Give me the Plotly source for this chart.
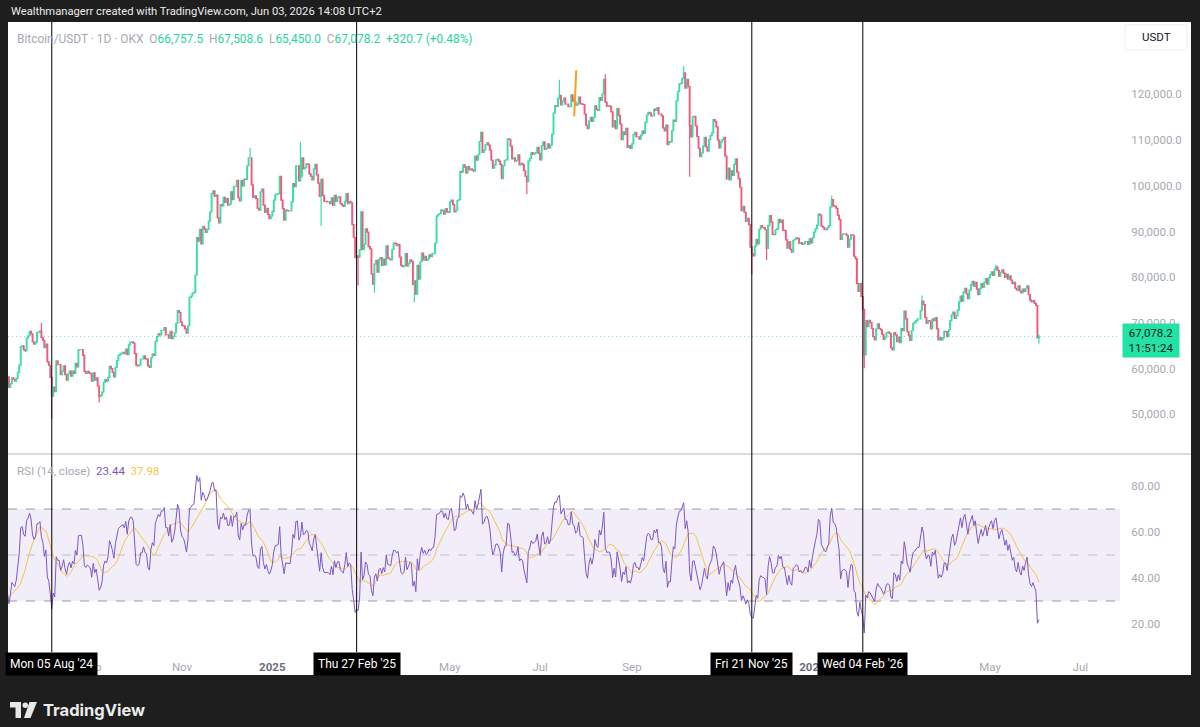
import plotly.graph_objects as go
import pandas as pd
import numpy as np

# ---------------- DATA (daily closes, thousands of USDT) ----------------
first_open_k = 67.5
close_2024_06 = [67.8, 67.8, 68.8, 70.6, 71.1, 70.8, 69.3, 69.3, 69.6, 69.5, 67.3, 68.2, 66.8, 66.0, 66.2, 66.7, 66.5, 65.2, 64.9, 64.9, 64.1, 64.3, 63.2, 60.3, 61.8, 60.9, 61.6, 60.3, 60.9, 62.7]
close_2024_07 = [62.9, 62.1, 60.2, 57.0, 56.7, 58.2, 55.9, 56.7, 58.0, 57.7, 57.3, 57.9, 59.2, 60.8, 64.8, 65.0, 64.1, 63.9, 66.7, 67.2, 68.2, 67.6, 65.9, 65.4, 65.8, 67.9, 68.0, 68.3, 66.8, 66.2, 64.6]
close_2024_08 = [65.4, 61.5, 60.7, 58.1, 54.0, 56.0, 55.0, 61.7, 60.9, 60.9, 58.7, 59.4, 60.6, 58.7, 57.5, 58.9, 59.5, 58.4, 59.5, 59.0, 61.2, 60.4, 64.1, 64.2, 64.2, 62.9, 59.4, 59.0, 59.4, 59.1, 58.9]
close_2024_09 = [57.3, 59.1, 57.5, 58.0, 56.2, 53.9, 54.2, 54.9, 57.0, 57.6, 57.3, 58.1, 60.5, 60.0, 59.2, 58.2, 60.3, 61.8, 62.9, 63.2, 63.4, 63.6, 63.3, 64.3, 63.1, 65.2, 65.8, 65.9, 65.6, 63.3]
close_2024_10 = [60.8, 60.6, 60.8, 62.1, 62.1, 62.8, 62.2, 62.1, 60.6, 60.3, 62.4, 63.2, 62.9, 66.0, 67.0, 67.6, 67.4, 68.4, 68.4, 69.0, 67.4, 67.4, 66.7, 68.2, 66.6, 67.0, 67.9, 69.9, 72.7, 72.3, 70.2]
close_2024_11 = [69.5, 69.3, 68.7, 67.8, 69.4, 75.6, 75.9, 76.5, 76.7, 80.5, 88.7, 87.9, 90.5, 87.3, 91.1, 90.6, 89.8, 90.5, 92.3, 94.3, 98.3, 98.9, 97.7, 98.0, 93.0, 91.9, 95.9, 95.6, 97.5, 96.4]
close_2024_12 = [97.2, 95.8, 96.0, 98.7, 97.0, 99.9, 99.9, 101.2, 97.4, 96.7, 101.2, 100.0, 101.5, 101.4, 104.4, 106.1, 106.1, 100.2, 97.5, 97.8, 97.2, 95.1, 94.7, 98.7, 99.3, 95.8, 94.2, 95.1, 93.7, 92.8, 93.4]
close_2025_01 = [94.4, 96.9, 98.1, 98.2, 98.3, 102.1, 96.9, 95.0, 92.5, 94.7, 94.6, 94.5, 94.5, 96.5, 100.5, 99.8, 104.4, 104.4, 101.1, 102.0, 106.1, 103.7, 104.0, 104.8, 104.7, 102.6, 102.1, 101.3, 103.7, 104.7, 102.4]
close_2025_02 = [100.6, 97.7, 101.4, 97.9, 96.6, 96.6, 96.5, 96.5, 96.1, 97.4, 95.7, 97.9, 96.6, 97.5, 97.6, 96.1, 95.8, 95.5, 96.6, 98.3, 96.1, 96.6, 96.3, 91.5, 88.7, 84.3, 84.7, 84.4]
close_2025_03 = [86.0, 94.3, 86.1, 87.2, 90.6, 89.9, 86.7, 86.2, 80.7, 78.5, 82.9, 83.7, 81.1, 83.9, 84.3, 82.6, 84.0, 82.7, 86.9, 84.2, 84.0, 83.8, 86.1, 87.5, 87.4, 86.9, 87.2, 84.4, 82.6, 82.3, 82.5]
close_2025_04 = [85.2, 82.5, 83.1, 83.8, 83.5, 78.4, 79.2, 76.3, 82.6, 79.6, 83.4, 85.3, 83.8, 84.6, 83.7, 84.0, 84.9, 84.5, 85.1, 85.2, 87.5, 93.4, 93.7, 93.9, 94.7, 94.6, 93.8, 95.0, 94.3, 94.2]
close_2025_05 = [96.5, 96.9, 95.9, 94.3, 94.7, 96.8, 97.0, 103.2, 103.0, 104.6, 104.1, 102.8, 104.2, 103.5, 103.7, 103.5, 103.2, 106.5, 105.6, 106.8, 109.7, 111.7, 107.3, 107.8, 109.0, 109.4, 108.9, 107.8, 105.6, 103.9, 104.6]
close_2025_06 = [105.7, 105.8, 105.4, 104.7, 101.6, 104.4, 105.6, 105.7, 110.3, 110.2, 108.7, 105.9, 106.1, 105.4, 105.6, 106.8, 104.6, 104.9, 104.7, 103.3, 102.1, 100.9, 105.4, 106.0, 107.3, 106.9, 107.1, 107.3, 108.4, 107.1]
close_2025_07 = [105.7, 108.8, 109.6, 108.0, 108.2, 109.2, 108.3, 108.9, 111.3, 115.9, 117.5, 117.4, 119.1, 119.8, 117.7, 118.6, 119.2, 117.9, 117.9, 117.3, 117.4, 119.9, 118.6, 118.4, 117.6, 117.9, 119.4, 118.0, 117.9, 117.8, 115.7]
close_2025_08 = [113.3, 112.5, 114.2, 115.0, 114.1, 115.0, 117.5, 116.7, 116.5, 119.3, 118.7, 120.1, 123.3, 118.3, 117.4, 117.5, 117.4, 116.2, 112.9, 114.3, 112.5, 116.9, 115.4, 113.5, 110.1, 111.8, 111.2, 112.6, 108.4, 108.8, 108.2]
close_2025_09 = [109.2, 111.2, 111.7, 110.7, 110.7, 110.2, 111.1, 112.0, 111.5, 113.9, 115.5, 116.1, 115.9, 115.3, 115.3, 116.8, 116.5, 117.1, 115.7, 115.7, 115.3, 112.7, 112.0, 113.3, 109.0, 109.7, 109.6, 112.1, 114.4, 114.1]
close_2025_10 = [118.6, 120.6, 122.3, 122.4, 123.5, 124.7, 121.4, 123.3, 121.7, 113.2, 110.7, 115.1, 115.2, 113.1, 110.8, 108.2, 106.4, 107.2, 108.7, 110.6, 108.5, 107.6, 110.1, 111.0, 111.6, 114.5, 114.1, 112.9, 110.0, 108.3, 109.6]
close_2025_11 = [110.1, 110.6, 106.5, 101.5, 103.9, 101.3, 103.3, 102.3, 104.7, 105.9, 103.0, 101.6, 99.7, 94.6, 95.5, 94.2, 92.2, 92.9, 91.5, 86.6, 85.1, 84.7, 86.8, 88.3, 87.3, 90.5, 91.3, 90.9, 90.8, 90.4]
close_2025_12 = [86.3, 91.3, 93.5, 92.1, 89.4, 89.3, 90.4, 90.6, 92.7, 92.0, 92.5, 90.3, 90.2, 88.2, 86.4, 87.8, 86.1, 85.5, 88.1, 88.3, 88.6, 88.5, 87.4, 87.6, 87.2, 87.3, 87.8, 87.8, 87.2, 88.4, 87.5]
close_2026_01 = [88.7, 89.9, 90.6, 91.4, 93.8, 93.6, 91.2, 90.9, 90.5, 90.4, 90.8, 91.3, 95.4, 97.0, 95.6, 95.5, 95.1, 93.6, 92.6, 88.3, 89.4, 89.5, 89.5, 89.2, 86.6, 88.3, 89.3, 89.2, 84.6, 84.1, 78.6]
close_2026_02 = [76.9, 78.7, 75.8, 73.0, 63.0, 70.5, 69.2, 70.6, 70.1, 68.8, 67.0, 66.3, 68.7, 69.8, 68.8, 68.5, 67.5, 66.4, 66.9, 67.9, 68.0, 67.7, 64.6, 64.1, 67.9, 67.4, 65.9, 66.9]
close_2026_03 = [65.7, 68.8, 68.3, 72.6, 70.9, 68.1, 67.3, 66.2, 68.4, 69.9, 70.2, 70.5, 70.9, 70.9, 72.7, 74.8, 74.0, 71.2, 69.9, 70.5, 70.4, 68.7, 70.9, 70.5, 71.2, 68.7, 66.3, 66.8, 66.3, 66.8, 68.2]
close_2026_04 = [68.1, 67.0, 68.5, 70.5, 71.8, 72.4, 71.0, 71.6, 72.8, 74.6, 75.9, 74.8, 76.8, 77.6, 76.4, 75.3, 77.2, 78.4, 79.1, 78.0, 78.9, 77.4, 76.2, 77.5, 78.6, 77.8, 78.9, 79.7, 78.5, 79.9]
close_2026_05 = [80.6, 81.2, 80.4, 81.8, 82.3, 81.5, 80.2, 81.1, 81.6, 80.9, 80.0, 80.7, 79.6, 80.3, 79.4, 78.6, 78.9, 77.6, 77.2, 78.1, 77.0, 76.6, 77.4, 76.9, 77.6, 78.1, 76.2, 75.0, 74.6, 74.9, 74.3]
close_2026_06 = [73.8, 66.7575, 67.0782]

# notable wick extremes (thousands)
wick_high = {"2024-07-29": 70.0, "2024-12-17": 108.3, "2025-01-20": 109.6, "2025-07-14": 123.2,
             "2025-08-14": 124.4, "2025-10-06": 126.2, "2026-01-14": 97.9, "2026-03-16": 76.0,
             "2026-05-05": 82.8, "2026-06-03": 67.5086}
wick_low = {"2024-08-05": 49.0, "2024-09-06": 52.6, "2025-02-03": 91.2, "2025-02-28": 78.2,
            "2025-03-11": 76.6, "2025-04-07": 74.5, "2025-06-22": 98.2, "2025-10-10": 102.0,
            "2025-11-21": 80.6, "2025-12-01": 83.8, "2026-02-05": 60.1, "2026-06-03": 65.45}

event_dates = ["2024-08-05", "2025-02-27", "2025-11-21", "2026-02-04"]
highlight_dates = ["2025-07-25 09:00", "2025-07-24 00:00"]
highlight_prices = [125300, 115200]

price_ticks = [50000, 60000, 70000, 80000, 90000, 100000, 110000, 120000]
rsi_ticks = [20, 40, 60, 80]
# time-scale labels that are not covered by the crosshair date boxes
time_ticks = ["2024-09-01", "2024-11-01", "2025-01-01", "2025-05-01", "2025-07-01",
              "2025-09-01", "2026-01-01", "2026-05-01", "2026-07-01"]
time_tick_text = ["Sep", "Nov", "2025", "May", "Jul", "Sep", "2026", "May", "Jul"]

header_text = "Wealthmanagerr created with TradingView.com, Jun 03, 2026 14:08 UTC+2"
symbol_text = "Bitcoin/USDT · 1D · OKX"
rsi_label = "RSI (14, close)"
rsi_value_text = "23.44"
rsi_ma_text = "37.98"
countdown_text = "11:51:24"
# ------------------------------------------------------------------------

months = [close_2024_06, close_2024_07, close_2024_08, close_2024_09, close_2024_10, close_2024_11,
          close_2024_12, close_2025_01, close_2025_02, close_2025_03, close_2025_04, close_2025_05,
          close_2025_06, close_2025_07, close_2025_08, close_2025_09, close_2025_10, close_2025_11,
          close_2025_12, close_2026_01, close_2026_02, close_2026_03, close_2026_04, close_2026_05,
          close_2026_06]
closes = np.array([v for m in months for v in m]) * 1000.0
dates = pd.date_range("2024-06-01", periods=len(closes), freq="D")
opens = np.concatenate([[first_open_k * 1000.0], closes[:-1]])
highs = np.maximum(opens, closes)
lows = np.minimum(opens, closes)
idx = {d.strftime("%Y-%m-%d"): i for i, d in enumerate(dates)}
for d, v in wick_high.items():
    highs[idx[d]] = max(highs[idx[d]], v * 1000)
for d, v in wick_low.items():
    lows[idx[d]] = min(lows[idx[d]], v * 1000)

s = pd.Series(closes)
diff = s.diff()
up = diff.clip(lower=0).ewm(alpha=1 / 14, adjust=False).mean()
dn = (-diff).clip(lower=0).ewm(alpha=1 / 14, adjust=False).mean()
rsi = 100 - 100 / (1 + up / dn)
rsi_ma = rsi.rolling(14).mean()

# ---------------- LAYOUT HELPERS ----------------
W, H = 1200, 727
PL, PR, PT, PB = 8, 1120, 22, 650


def fx(px):
    return (px - PL) / (PR - PL)


def fy(py):
    return (PB - py) / (PB - PT)


UP = "#3bdca8"
DOWN = "#ef5b7b"
BG = "#1e1e1e"
GRAY = "#a6a9b1"
FONT = "Roboto, Arial, sans-serif"
PURPLE = "#7e57c2"
YELLOW = "#f6c544"
GREEN_TXT = "#27d49d"

fig = go.Figure()
fig.add_trace(go.Candlestick(
    x=dates, open=opens, high=highs, low=lows, close=closes,
    increasing=dict(line=dict(color=UP, width=1.2), fillcolor=UP),
    decreasing=dict(line=dict(color=DOWN, width=1.2), fillcolor=DOWN),
    whiskerwidth=0, xaxis="x", yaxis="y", showlegend=False, hoverinfo="skip"))
fig.add_trace(go.Scatter(x=highlight_dates, y=highlight_prices, mode="lines",
                         line=dict(color="#f5a11c", width=2), xaxis="x", yaxis="y",
                         showlegend=False, hoverinfo="skip"))
fig.add_trace(go.Scatter(x=dates, y=rsi_ma, mode="lines", line=dict(color=YELLOW, width=1),
                         xaxis="x2", yaxis="y2", showlegend=False, hoverinfo="skip"))
fig.add_trace(go.Scatter(x=dates, y=rsi, mode="lines", line=dict(color=PURPLE, width=1),
                         xaxis="x2", yaxis="y2", showlegend=False, hoverinfo="skip"))

xrange = ["2024-07-06 10:00", "2026-07-27 19:00"]
price_top = 70000 + (323 - PT) * 218.75
price_bot = 70000 - (453 - 323) * 218.75
rsi_top = 80 + (486 - 455) / 2.3
rsi_bot = 20 - (PB - 624) / 2.3

fig.update_layout(
    width=W, height=H, margin=dict(l=PL, r=W - PR, t=PT, b=H - PB),
    paper_bgcolor="white", plot_bgcolor="white", showlegend=False,
    font=dict(family=FONT, color=GRAY, size=12),
    xaxis=dict(domain=[0, 1], anchor="y", range=xrange, showticklabels=False, showgrid=False,
               zeroline=False, rangeslider=dict(visible=False), showline=False),
    xaxis2=dict(domain=[0, 1], anchor="y2", range=xrange, matches="x", showgrid=False, zeroline=False,
                tickvals=time_ticks,
                ticktext=[("<b><span style='color:#6b6e78'>%s</span></b>" % t) if t.isdigit() else t
                          for t in time_tick_text],
                ticks="outside", ticklen=6, tickcolor="rgba(0,0,0,0)",
                tickfont=dict(family=FONT, size=11.5, color="#a6a9b1"), showline=False),
    yaxis=dict(domain=[fy(453), 1], anchor="x", side="right", range=[price_bot, price_top],
               tickvals=price_ticks, ticktext=[f"{v:,.1f}" for v in price_ticks],
               showgrid=False, zeroline=False, ticks="outside", ticklen=8, tickcolor="rgba(0,0,0,0)",
               tickfont=dict(family=FONT, size=11.5, color="#a6a9b1")),
    yaxis2=dict(domain=[0, fy(455)], anchor="x2", side="right", range=[rsi_bot, rsi_top],
                tickvals=rsi_ticks, ticktext=[f"{v:.2f}" for v in rsi_ticks],
                showgrid=False, zeroline=False, ticks="outside", ticklen=8, tickcolor="rgba(0,0,0,0)",
                tickfont=dict(family=FONT, size=11.5, color="#a6a9b1")),
)

shapes = []
# RSI band and levels
shapes.append(dict(type="rect", xref="paper", yref="y2", x0=0, x1=1, y0=30, y1=70,
                   fillcolor="rgba(126,87,194,0.10)", line=dict(width=0), layer="below"))
for lv, col in [(70, "rgba(120,123,134,0.75)"), (50, "rgba(120,123,134,0.4)"), (30, "rgba(120,123,134,0.75)")]:
    shapes.append(dict(type="line", xref="paper", yref="y2", x0=0, x1=1, y0=lv, y1=lv,
                       line=dict(color=col, width=1, dash="dash"), layer="below"))
# last price dotted line
last_close = closes[-1]
shapes.append(dict(type="line", xref="paper", yref="y", x0=0, x1=1, y0=last_close, y1=last_close,
                   line=dict(color="rgba(40,200,150,0.65)", width=1, dash="1px,3px"), layer="below"))
# pane separator
shapes.append(dict(type="line", xref="paper", yref="paper", x0=fx(8), x1=fx(1191), y0=fy(454), y1=fy(454),
                   line=dict(color="#b8b8b8", width=1)))
# event vertical lines
for d in event_dates:
    shapes.append(dict(type="line", xref="x", yref="paper", x0=d, x1=d, y0=fy(652), y1=fy(PT),
                       line=dict(color="#000000", width=1)))
# dark frame
for (x0, y0, x1, y1) in [(0, 0, W, PT), (0, 675, W, H), (0, 0, PL, H), (1191, 0, W, H)]:
    shapes.append(dict(type="rect", xref="paper", yref="paper", x0=fx(x0), x1=fx(x1), y0=fy(y1), y1=fy(y0),
                       fillcolor=BG, line=dict(width=0)))
# USDT box
shapes.append(dict(type="rect", xref="paper", yref="paper", x0=fx(1125), x1=fx(1187), y0=fy(50), y1=fy(25),
                   fillcolor="white", line=dict(color="#eceef2", width=1)))
# TradingView logo icon
shapes.append(dict(type="path", xref="paper", yref="paper",
                   path="M %f %f L %f %f L %f %f L %f %f L %f %f L %f %f Z" % (
                       fx(10), fy(702), fx(21), fy(702), fx(21), fy(718), fx(15.5), fy(718), fx(15.5), fy(707.5), fx(10), fy(707.5)),
                   fillcolor="#e8e8e8", line=dict(width=0)))
shapes.append(dict(type="circle", xref="paper", yref="paper", x0=fx(22.5), x1=fx(28), y0=fy(708), y1=fy(702.5),
                   fillcolor="#e8e8e8", line=dict(width=0)))
shapes.append(dict(type="path", xref="paper", yref="paper",
                   path="M %f %f L %f %f L %f %f L %f %f Z" % (
                       fx(29.5), fy(702), fx(37), fy(702), fx(30.5), fy(718), fx(24), fy(718)),
                   fillcolor="#e8e8e8", line=dict(width=0)))
fig.update_layout(shapes=shapes)

ann = []
ann.append(dict(xref="paper", yref="paper", x=fx(9), y=fy(12), xanchor="left", yanchor="middle",
                text=header_text, showarrow=False, font=dict(family=FONT, size=11.2, color="#ececec")))
o, h, l, c = opens[-1], highs[-1], lows[-1], closes[-1]
chg = c - closes[-2]
pct = chg / closes[-2] * 100
g = lambda t: f"<span style='color:{GREEN_TXT}'>{t}</span>"
legend = (f"{symbol_text}&nbsp;&nbsp;O{g(f'{o:,.1f}')}&nbsp;&nbsp;H{g(f'{h:,.1f}')}&nbsp;&nbsp;"
          f"L{g(f'{l:,.1f}')}&nbsp;&nbsp;C{g(f'{c:,.1f}')}&nbsp;&nbsp;{g(f'{chg:+,.1f} ({pct:+.2f}%)')}")
ann.append(dict(xref="paper", yref="paper", x=fx(15), y=fy(39), xanchor="left", yanchor="middle",
                text=legend, showarrow=False, font=dict(family=FONT, size=11.9, color=GRAY)))
rsi_leg = (f"{rsi_label}&nbsp;&nbsp;<span style='color:{PURPLE}'>{rsi_value_text}</span>&nbsp;&nbsp;"
           f"<span style='color:{YELLOW}'>{rsi_ma_text}</span>")
ann.append(dict(xref="paper", yref="paper", x=fx(15), y=fy(471), xanchor="left", yanchor="middle",
                text=rsi_leg, showarrow=False, font=dict(family=FONT, size=11.5, color=GRAY)))
for d in event_dates:
    lbl = pd.Timestamp(d).strftime("%a %d %b '%y")
    ann.append(dict(xref="x", yref="paper", x=d, y=fy(664), xanchor="center", yanchor="middle",
                    text=lbl, showarrow=False, bgcolor="#000000", borderpad=4,
                    font=dict(family=FONT, size=12, color="white")))
ann.append(dict(xref="paper", yref="paper", x=fx(1151), y=fy(340.5), xanchor="center", yanchor="middle",
                text=f"{last_close:,.1f}<br>{countdown_text}", showarrow=False, bgcolor="#22e3a3",
                borderpad=2, width=52, align="center",
                font=dict(family=FONT, size=11.5, color="#131722")))
ann.append(dict(xref="paper", yref="paper", x=fx(1156), y=fy(37.5), xanchor="center", yanchor="middle",
                text="USDT", showarrow=False, font=dict(family=FONT, size=11.5, color="#131722")))
ann.append(dict(xref="paper", yref="paper", x=fx(41), y=fy(710), xanchor="left", yanchor="middle",
                text="<b>TradingView</b>", showarrow=False, font=dict(family="Inter, Roboto", size=16.5, color="#ececec")))
fig.update_layout(annotations=ann)

fig.write_html("out.html")
